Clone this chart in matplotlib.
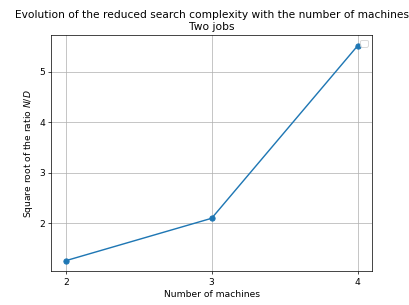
import matplotlib
matplotlib.use("Agg")
import matplotlib.pyplot as plt

machines = [2, 3, 4]
sqrt_ratio = [1.255, 2.095, 5.51]

plt.rcParams['font.size'] = 10.3
plt.rcParams['lines.linewidth'] = 1.6
fig, ax = plt.subplots(figsize=(409/64, 305/64), dpi=64)
ax.plot(machines, sqrt_ratio, marker='o')
ax.set_xticks(machines)
ax.set_title("Evolution of the reduced search complexity with the number of machines\nTwo jobs",
             fontsize=12)
ax.set_xlabel("Number of machines")
ax.set_ylabel("Square root of the ratio $N/D$")
ax.grid(True)
ax.legend(handles=[], labels=[])
fig.subplots_adjust(left=0.125, right=0.91, top=0.885, bottom=0.11)
fig.savefig("out.png", dpi=64)
